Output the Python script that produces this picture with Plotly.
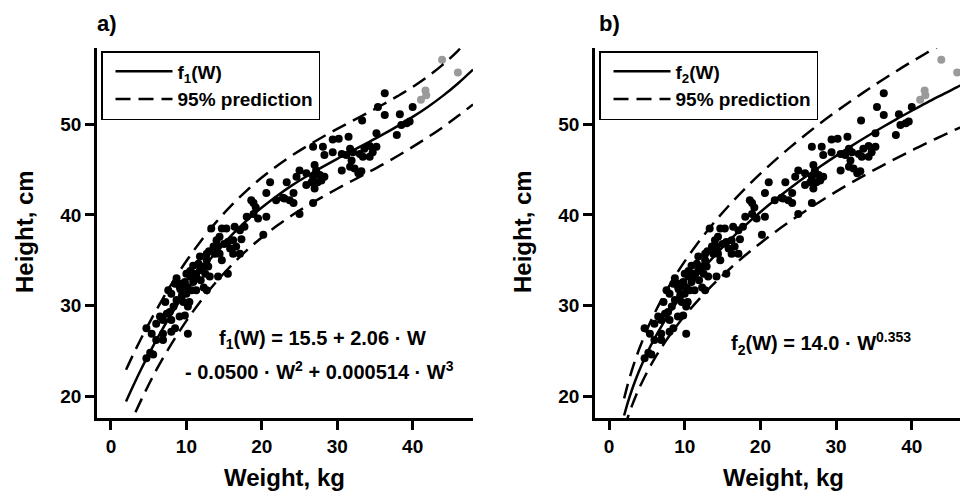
import plotly.graph_objects as go

# ---------------- data ----------------
weight = [36.3, 35.4, 36.3, 38.3, 40.0, 38.5, 39.2, 39.6, 37.9, 35.2, 33.3, 30.2, 31.5, 28.1,
          29.4, 30.6, 31.2, 32.1, 31.7, 33.0, 33.6, 34.3, 33.4, 30.6, 31.7, 32.3, 32.8, 33.2,
          31.9, 28.3, 26.8, 25.0, 25.9, 27.0, 27.2, 27.7, 26.8, 26.6, 27.4, 27.9, 28.3, 27.0,
          25.9, 24.6, 24.2, 23.7, 23.3, 25.0, 26.8, 21.1, 21.9, 23.0, 20.6, 18.9, 18.6, 18.9,
          19.5, 18.0, 20.2, 16.4, 17.1, 17.7, 17.1, 16.2, 16.6, 15.5, 16.2, 15.8, 15.3, 14.7,
          14.4, 14.0, 14.2, 13.6, 13.8, 14.4, 13.3, 15.5, 14.2, 14.7, 12.7, 12.2, 12.9, 11.8,
          12.5, 13.1, 11.3, 11.9, 10.9, 10.5, 10.0, 9.8, 9.4, 8.7, 8.5, 9.1, 10.0, 10.7,
          11.3, 10.0, 9.4, 8.7, 8.0, 7.6, 8.3, 7.8, 7.4, 6.9, 6.5, 9.1, 9.8, 10.2, 9.6, 8.0,
          6.0, 6.9, 8.0, 8.5, 10.2, 6.0, 5.4, 6.9, 4.7, 5.6, 4.7, 5.2, 12.7, 12.7, 11.8, 10.9,
          10.5, 11.6, 29.4, 35.2, 34.7, 34.3, 22.8, 24.2, 20.6, 19.2, 17.3, 15.0, 13.0, 11.0,
          9.2, 12.3, 10.4, 7.2]
height = [53.4, 51.9, 51.0, 51.1, 51.9, 49.9, 50.1, 50.3, 48.8, 49.0, 50.4, 48.4, 48.6, 47.5,
          46.9, 46.7, 46.6, 46.9, 47.3, 46.7, 47.3, 47.6, 46.4, 44.9, 45.3, 45.1, 44.6, 44.8,
          46.0, 46.6, 47.5, 44.9, 44.6, 45.5, 44.9, 44.4, 44.2, 43.6, 43.6, 43.8, 44.2, 42.9,
          43.3, 44.2, 42.4, 41.6, 43.6, 40.1, 41.3, 43.6, 41.6, 41.8, 42.4, 41.3, 41.6, 40.1,
          39.6, 39.8, 37.8, 38.7, 38.3, 38.7, 35.7, 37.2, 36.5, 37.0, 35.7, 36.3, 38.5, 38.5,
          37.6, 37.2, 36.5, 36.5, 35.7, 35.7, 38.5, 33.5, 33.2, 35.0, 35.0, 34.3, 34.3, 33.9,
          33.5, 33.2, 33.2, 32.8, 32.6, 33.2, 33.5, 32.6, 32.4, 33.0, 32.4, 32.1, 32.1, 31.7,
          31.7, 31.3, 31.1, 30.6, 31.3, 31.7, 29.9, 29.3, 29.1, 28.4, 28.8, 28.8, 28.9, 29.9,
          30.4, 28.4, 28.0, 26.9, 27.1, 27.5, 26.9, 26.2, 26.9, 26.2, 27.5, 24.6, 24.2, 24.8,
          31.7, 35.7, 35.4, 34.4, 33.8, 34.6, 48.3, 47.5, 46.9, 46.4, 41.9, 41.3, 39.8, 40.8,
          37.3, 36.8, 36.0, 33.5, 31.8, 32.0, 30.4, 30.4]
gray_weight = [41.1, 41.8, 41.7, 43.9, 46.0]
gray_height = [52.7, 53.2, 53.7, 57.1, 55.7]

# fitted curve a) and its 95% prediction band
curve_w1 = [2, 3, 4, 5, 6, 8, 10, 12, 14, 16, 18, 20, 22, 24, 26, 28, 30, 32, 34, 36, 38, 40,
            42, 44, 46, 48]
f1_fit = [19.42, 21.24, 22.97, 24.61, 26.17, 29.04, 31.61, 33.91, 35.95, 37.77, 39.38, 40.81,
          42.09, 43.25, 44.29, 45.26, 46.18, 47.06, 47.94, 48.84, 49.79, 50.80, 51.90, 53.12,
          54.49, 56.02]
f1_upper = [22.92, 24.69, 26.37, 27.96, 29.47, 32.34, 34.91, 37.21, 39.25, 41.07, 42.68, 44.11,
            45.39, 46.55, 47.59, 48.56, 49.48, 50.36, 51.24, 52.14, 53.09, 54.10, 55.25, 56.57,
            58.09, 59.87]
f1_lower = [15.92, 17.79, 19.57, 21.26, 22.87, 25.74, 28.31, 30.61, 32.65, 34.47, 36.08, 37.51,
            38.79, 39.95, 40.99, 41.96, 42.88, 43.76, 44.64, 45.54, 46.49, 47.50, 48.55, 49.67,
            50.89, 52.17]

# fitted curve b) and its 95% prediction band
curve_w2 = [2, 2.5, 3, 3.5, 4, 5, 6, 7, 8, 9, 10, 12, 14, 16, 18, 20, 22, 24, 26, 28, 30, 32,
            34, 36, 38, 40, 42, 44, 46, 48]
f2_fit = [17.88, 19.35, 20.63, 21.79, 22.84, 24.71, 26.35, 27.82, 29.17, 30.41, 31.56, 33.66,
          35.54, 37.26, 38.84, 40.31, 41.69, 42.99, 44.22, 45.39, 46.51, 47.58, 48.61, 49.60,
          50.56, 51.48, 52.38, 53.24, 54.09, 54.90]
f2_upper = [19.76, 21.38, 22.80, 24.08, 25.24, 27.30, 29.12, 30.74, 32.23, 33.60, 34.87, 37.19,
            39.27, 41.17, 42.92, 44.54, 46.07, 47.50, 48.86, 50.16, 51.39, 52.58, 53.71, 54.81,
            55.87, 56.89, 57.88, 58.83, 59.77, 60.66]
f2_lower = [16.36, 17.71, 18.88, 19.94, 20.90, 22.61, 24.11, 25.46, 26.69, 27.83, 28.88, 30.80,
            32.52, 34.09, 35.54, 36.88, 38.15, 39.34, 40.46, 41.53, 42.56, 43.54, 44.48, 45.38,
            46.26, 47.10, 47.93, 48.71, 49.49, 50.23]

x_ticks = [0, 10, 20, 30, 40]
y_ticks = [20, 30, 40, 50]

# ---------------- figure ----------------
W, H = 960, 494
FONT = "Liberation Sans, Arial, sans-serif"
fig = go.Figure()

DASH = "15px,8px"
LW = 2.5


def add_panel(xa, ya, leg, cw, fit, up, lo, fname):
    fig.add_trace(go.Scatter(x=weight, y=height, mode="markers", xaxis=xa, yaxis=ya,
                             marker=dict(color="black", size=8), showlegend=False,
                             cliponaxis=True))
    fig.add_trace(go.Scatter(x=gray_weight, y=gray_height, mode="markers", xaxis=xa, yaxis=ya,
                             marker=dict(color="#9a9a9a", size=8), showlegend=False,
                             cliponaxis=True))
    fig.add_trace(go.Scatter(x=cw, y=fit, mode="lines", xaxis=xa, yaxis=ya, legend=leg,
                             name=fname, line=dict(color="black", width=LW, shape="spline")))
    fig.add_trace(go.Scatter(x=cw, y=up, mode="lines", xaxis=xa, yaxis=ya, legend=leg,
                             name="95% prediction",
                             line=dict(color="black", width=LW, dash=DASH, shape="spline")))
    fig.add_trace(go.Scatter(x=cw, y=lo, mode="lines", xaxis=xa, yaxis=ya, legend=leg,
                             showlegend=False,
                             line=dict(color="black", width=LW, dash=DASH, shape="spline")))


add_panel("x", "y", "legend", curve_w1, f1_fit, f1_upper, f1_lower, "f<sub>1</sub>(W)")
add_panel("x2", "y2", "legend2", curve_w2, f2_fit, f2_upper, f2_lower, "f<sub>2</sub>(W)")

ydom = [1 - 418 / H, 1 - 48 / H]
axis_common = dict(showline=True, linecolor="black", linewidth=2.5, ticks="outside",
                   ticklen=9, tickwidth=2.5, tickcolor="black", showgrid=False, zeroline=False,
                   tickfont=dict(size=19, color="black", family=FONT, weight="bold"))

legend_common = dict(y=1 - 51 / H, xanchor="left", yanchor="top", bgcolor="white",
                     bordercolor="black", borderwidth=1.5,
                     font=dict(size=19, family=FONT, color="black", weight="bold"),
                     tracegroupgap=0, itemwidth=57, indentation=8)

fig.update_layout(
    width=W, height=H, margin=dict(l=0, r=0, t=0, b=0),
    paper_bgcolor="white", plot_bgcolor="white",
    font=dict(family=FONT, color="black", weight="bold"),
    xaxis=dict(domain=[97 / W, 473 / W], range=[-1.85, 48.0], tickvals=x_ticks, anchor="y",
               **axis_common),
    yaxis=dict(domain=ydom, range=[17.6, 58.4], tickvals=y_ticks, anchor="x", **axis_common),
    xaxis2=dict(domain=[595 / W, 1.0], range=[-1.85, 46.37], tickvals=x_ticks, anchor="y2",
                **axis_common),
    yaxis2=dict(domain=ydom, range=[17.6, 58.4], tickvals=y_ticks, anchor="x2", **axis_common),
    legend=dict(x=101 / W, **legend_common),
    legend2=dict(x=599 / W, **legend_common),
)

ann_font = dict(family=FONT, color="black", weight="bold")
annotations = [
    dict(text="a)", x=95 / W, y=1 - 23 / H, xanchor="left", yanchor="middle",
         font=dict(size=22, **ann_font)),
    dict(text="b)", x=597 / W, y=1 - 23 / H, xanchor="left", yanchor="middle",
         font=dict(size=22, **ann_font)),
    dict(text="Height, cm", x=24 / W, y=1 - 232 / H, textangle=-90, xanchor="center",
         yanchor="middle", font=dict(size=24, **ann_font)),
    dict(text="Height, cm", x=522 / W, y=1 - 232 / H, textangle=-90, xanchor="center",
         yanchor="middle", font=dict(size=24, **ann_font)),
    dict(text="Weight, kg", x=284 / W, y=1 - 477 / H, xanchor="center", yanchor="middle",
         font=dict(size=24, **ann_font)),
    dict(text="Weight, kg", x=783 / W, y=1 - 477 / H, xanchor="center", yanchor="middle",
         font=dict(size=24, **ann_font)),
    dict(text="f<sub>1</sub>(W) = 15.5 + 2.06 · W", x=322 / W, y=1 - 339 / H,
         xanchor="center", yanchor="middle", font=dict(size=20, **ann_font)),
    dict(text="- 0.0500 · W<sup>2</sup> + 0.000514 · W<sup>3</sup>", x=319 / W,
         y=1 - 370 / H, xanchor="center", yanchor="middle", font=dict(size=20, **ann_font)),
    dict(text="f<sub>2</sub>(W) = 14.0 · W<sup>0.353</sup>", x=821 / W, y=1 - 343 / H,
         xanchor="center", yanchor="middle", font=dict(size=20, **ann_font)),
]
for a in annotations:
    a.update(xref="paper", yref="paper", showarrow=False)
fig.update_layout(annotations=annotations)

fig.write_html("out.html", config={"displayModeBar": False},
               post_script="document.body.style.margin='0';document.body.style.overflow='hidden';")
